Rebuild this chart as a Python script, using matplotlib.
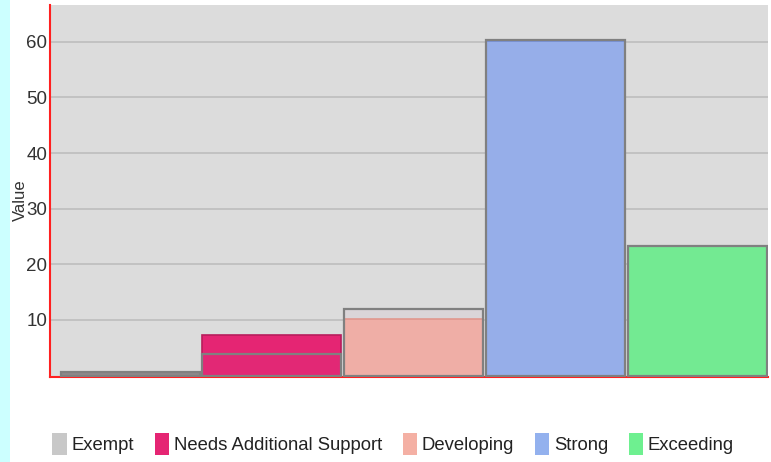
import matplotlib
matplotlib.use("Agg")
import matplotlib.pyplot as plt
from matplotlib.patches import Rectangle, Patch

categories = ["Exempt", "Needs Additional Support", "Developing", "Strong", "Exceeding"]
values_fill = [0.6, 7.3, 10.1, 60.2, 23.3]
values_outline = [0.6, 3.8, 12.0, 60.4, 23.3]
colors = ["#8a8a8a", "#e52573", "#f2b3a7", "#94b3ee", "#6ff392"]
legend_colors = ["#c8c8c8", "#e52573", "#f4b0a4", "#93b1ee", "#6ef090"]
edge_colors = ["#7a7a7a", "#b81d5c", "#e39a8e", "#6f8fd8", "#4fcf70"]
yticks = [10, 20, 30, 40, 50, 60]

plt.rcParams["font.family"] = ["Liberation Sans", "DejaVu Sans"]

fig = plt.figure(figsize=(7.71, 4.62), dpi=100)
fig.patch.set_facecolor("white")
fig.patches.append(Rectangle((0, 0), 10 / 771, 1, transform=fig.transFigure,
                             facecolor="#ccffff", edgecolor="none", zorder=0))

ax = fig.add_axes([50 / 771, 1 - 377 / 462, 718 / 771, 372 / 462])
ax.set_facecolor("#dcdcdc")
x = list(range(len(categories)))
ax.bar(x, values_fill, width=0.98, color=colors, edgecolor=edge_colors, linewidth=1.2, zorder=2)
ax.bar(x, values_outline, width=0.98, color=(0.75, 0.4, 0.6, 0.06), edgecolor="#808080",
       linewidth=1.6, zorder=3)

ax.set_xlim(-0.565, 4.5)
ax.set_ylim(-0.25, 66.6)
ax.set_yticks(yticks)
ax.set_xticks([])
ax.yaxis.grid(True, color="#bdbdbd", linewidth=1.2, zorder=1)
ax.set_axisbelow(True)
ax.tick_params(axis="y", length=0, pad=2, labelsize=13.5, labelcolor="#333333")
for s in ["top", "right"]:
    ax.spines[s].set_visible(False)
for s in ["left", "bottom"]:
    ax.spines[s].set_color("#ff2020")
    ax.spines[s].set_linewidth(1.5)
ax.set_ylabel("Value", fontsize=12, color="#333333")
ax.yaxis.set_label_coords(-0.031, 0.475)

handles = [Patch(facecolor=c, edgecolor="none") for c in legend_colors]
fig.legend(handles, categories, loc="center", bbox_to_anchor=(0.51, 1 - 444 / 462),
           ncol=5, frameon=False, fontsize=13.3, handlelength=0.8, handleheight=1.5,
           handletextpad=0.25, columnspacing=1.1, labelcolor="#222222")

fig.savefig("out.png", dpi=100)
